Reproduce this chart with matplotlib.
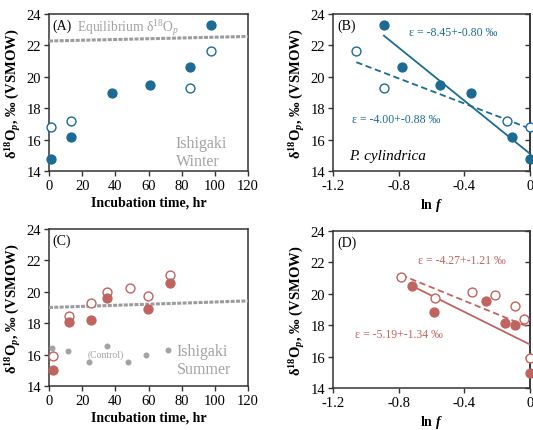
import matplotlib
matplotlib.use("Agg")
import matplotlib.pyplot as plt

plt.rcParams['font.family'] = ['Liberation Serif', 'DejaVu Serif']
plt.rcParams['mathtext.fontset'] = 'custom'
plt.rcParams['mathtext.rm'] = 'Liberation Serif'
plt.rcParams['mathtext.it'] = 'Liberation Serif:italic'
plt.rcParams['mathtext.bf'] = 'Liberation Serif:bold'
plt.rcParams['mathtext.bfit'] = 'Liberation Serif:bold:italic'

BLUE = '#1b6b95'
RED = '#c0645f'
GREY = '#9c9c9c'
TGREY = '#a3a3a3'
DARK = '#333333'

# ---- Panel A: Ishigaki winter ----
a_time_filled = [1.0, 13.5, 38.0, 61.0, 85.3, 97.8]
a_d18_filled = [14.74, 16.15, 19.0, 19.47, 20.64, 23.32]
a_time_open = [1.0, 13.5, 85.3, 97.8]
a_d18_open = [16.83, 17.18, 19.26, 21.66]
a_eq_time = [0, 120]
a_eq_d18 = [22.28, 22.57]

# ---- Panel B: ln f ----
b_lnf_filled = [-0.89, -0.779, -0.546, -0.36, -0.109, 0.0]
b_d18_filled = [23.32, 20.64, 19.47, 19.0, 16.15, 14.74]
b_lnf_open = [-1.058, -0.892, -0.141, 0.0]
b_d18_open = [21.66, 19.26, 17.18, 16.83]
b_fit_solid_x = [-0.89, 0.0]
b_fit_solid_y = [22.62, 15.1]
b_fit_dash_x = [-1.058, 0.0]
b_fit_dash_y = [20.93, 16.7]

# ---- Panel C: Ishigaki summer ----
c_time_filled = [2.4, 12.2, 25.2, 35.2, 59.4, 72.9]
c_d18_filled = [15.0, 18.05, 18.19, 19.62, 18.9, 20.55]
c_time_open = [2.4, 12.2, 25.2, 35.2, 48.8, 59.4, 72.9]
c_d18_open = [15.9, 18.45, 19.26, 19.96, 20.22, 19.74, 21.07]
c_ctrl_time = [1.8, 11.4, 23.9, 34.7, 47.8, 58.6, 71.7]
c_ctrl_d18 = [16.4, 16.22, 15.55, 16.55, 15.53, 15.98, 16.3]
c_eq_time = [0, 120]
c_eq_d18 = [19.0, 19.42]

# ---- Panel D: ln f ----
d_lnf_filled = [0.0, -0.089, -0.155, -0.265, -0.585, -0.718]
d_d18_filled = [14.96, 18.02, 18.17, 19.57, 18.87, 20.51]
d_lnf_open = [0.0, -0.036, -0.093, -0.216, -0.356, -0.579, -0.785]
d_d18_open = [15.91, 18.38, 19.2, 19.91, 20.13, 19.72, 21.06]
d_fit_solid_x = [-0.718, 0.0]
d_fit_solid_y = [20.5, 16.77]
d_fit_dash_x = [-0.785, 0.0]
d_fit_dash_y = [21.2, 17.85]

time_ticks = [0, 20, 40, 60, 80, 100, 120]
lnf_ticks = [-1.2, -0.8, -0.4, 0]
lnf_labels = ['-1.2', '-0.8', '-0.4', '0']
y_ticks = [14, 16, 18, 20, 22, 24]

fig = plt.figure(figsize=(5.33, 4.31), dpi=100)
W, H = 533, 431

def mkax(l, r, t, b):
    return fig.add_axes([l / W, 1 - b / H, (r - l) / W, (b - t) / H])

axA = mkax(49, 248, 15, 172)
axB = mkax(333, 530, 15, 172)
axC = mkax(49, 248, 230, 387)
axD = mkax(333, 530, 232, 389)

ylab = r'$\mathbf{\delta^{18}O}_{\mathbfit{p}}$, ‰ (VSMOW)'
MS = 6.4

def style(ax, xticks, xlabels, xlim, xlabel, right_ticks=False):
    ax.set_xlim(*xlim)
    ax.set_ylim(14, 24)
    ax.set_xticks(xticks)
    ax.set_xticklabels(xlabels)
    ax.set_yticks(y_ticks)
    for s in ax.spines.values():
        s.set_linewidth(1.1)
        s.set_color(DARK)
    ax.tick_params(direction='out', length=3.5, width=1.0, color=DARK,
                   labelsize=10.5, pad=2)
    ax.set_xlabel(xlabel, fontsize=10, fontweight='bold', labelpad=3)
    ax.set_ylabel(ylab, fontsize=10.5, fontweight='bold', labelpad=3)
    if right_ticks:
        sec = ax.secondary_yaxis('right')
        sec.set_yticks(y_ticks)
        sec.tick_params(direction='in', length=3.5, width=1.0, color=DARK,
                        labelright=False)
        sec.spines['right'].set_linewidth(1.1)
        sec.spines['right'].set_color(DARK)

def filled(ax, x, y, c):
    ax.plot(x, y, 'o', ms=MS, color=c, mec=c, clip_on=False, zorder=5)

def openm(ax, x, y, c):
    ax.plot(x, y, 'o', ms=MS, mfc='white', mec=c, mew=1.0, clip_on=False, zorder=5)

eq_style = dict(color=GREY, lw=2.2, linestyle=(0, (1.3, 0.45)), zorder=3)

# Panel A
style(axA, time_ticks, [str(t) for t in time_ticks], (0, 120), 'Incubation time, hr')
axA.plot(a_eq_time, a_eq_d18, **eq_style)
openm(axA, a_time_open, a_d18_open, BLUE)
filled(axA, a_time_filled, a_d18_filled, BLUE)
axA.text(2.3, 23.3, '(A)', fontsize=10, va='center', ha='left')
axA.text(16.8, 23.15, r'Equilibrium $\mathrm{\delta^{18}O}_{\mathit{p}}$', fontsize=9.8,
         color=TGREY, va='center', ha='left')
axA.text(76.5, 15.77, 'Ishigaki', fontsize=11.5, color=TGREY, va='center', ha='left')
axA.text(76.5, 14.64, 'Winter', fontsize=11.5, color=TGREY, va='center', ha='left')

# Panel B
style(axB, lnf_ticks, lnf_labels, (-1.2, 0), r'ln $\mathbfit{f}$', right_ticks=True)
axB.plot(b_fit_solid_x, b_fit_solid_y, color=BLUE, lw=1.3, zorder=4)
axB.plot(b_fit_dash_x, b_fit_dash_y, color=BLUE, lw=1.3, linestyle=(0, (3.5, 2)), zorder=4)
openm(axB, b_lnf_open, b_d18_open, BLUE)
filled(axB, b_lnf_filled, b_d18_filled, BLUE)
axB.text(-1.175, 23.3, '(B)', fontsize=10, va='center', ha='left')
axB.text(-0.738, 22.83, 'ε = -8.45+-0.80 ‰', fontsize=8.5, color=BLUE, va='center', ha='left')
axB.text(-1.085, 17.3, 'ε = -4.00+-0.88 ‰', fontsize=8.5, color=BLUE, va='center', ha='left')
axB.text(-1.105, 15.0, 'P. cylindrica', fontsize=11, style='italic', va='center', ha='left')

# Panel C
style(axC, time_ticks, [str(t) for t in time_ticks], (0, 120), 'Incubation time, hr')
axC.plot(c_eq_time, c_eq_d18, **eq_style)
axC.plot(c_ctrl_time, c_ctrl_d18, 'o', ms=3.3, color=TGREY, zorder=4)
openm(axC, c_time_open, c_d18_open, RED)
filled(axC, c_time_filled, c_d18_filled, RED)
axC.text(2.3, 23.3, '(C)', fontsize=10, va='center', ha='left')
axC.text(23.3, 16.0, '(Control)', fontsize=7, color=TGREY, va='center', ha='left')
axC.text(77.0, 16.23, 'Ishigaki', fontsize=11.5, color=TGREY, va='center', ha='left')
axC.text(77.0, 15.06, 'Summer', fontsize=11.5, color=TGREY, va='center', ha='left')

# Panel D
style(axD, lnf_ticks, lnf_labels, (-1.2, 0), r'ln $\mathbfit{f}$', right_ticks=True)
axD.plot(d_fit_solid_x, d_fit_solid_y, color=RED, lw=1.3, zorder=4)
axD.plot(d_fit_dash_x, d_fit_dash_y, color=RED, lw=1.3, linestyle=(0, (3.5, 2)), zorder=4)
openm(axD, d_lnf_open, d_d18_open, RED)
filled(axD, d_lnf_filled, d_d18_filled, RED)
axD.text(-1.175, 23.3, '(D)', fontsize=10, va='center', ha='left')
axD.text(-0.68, 22.13, 'ε = -4.27+-1.21 ‰', fontsize=8.5, color=RED, va='center', ha='left')
axD.text(-1.066, 17.45, 'ε = -5.19+-1.34 ‰', fontsize=8.5, color=RED, va='center', ha='left')

fig.savefig('out.png', dpi=100)
